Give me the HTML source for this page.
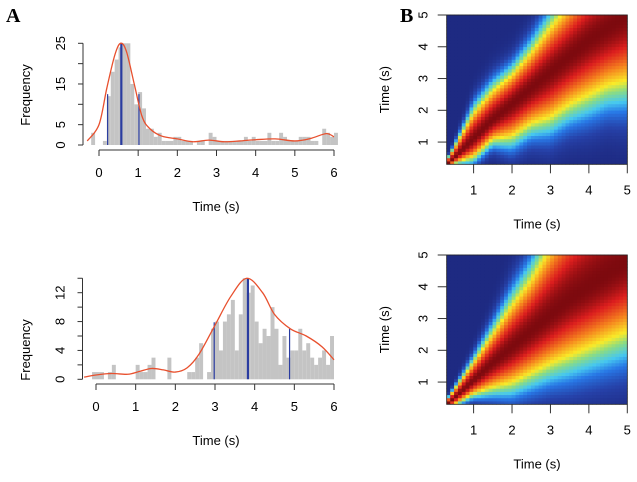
<!DOCTYPE html>
<html><head><meta charset="utf-8"><style>
html,body{margin:0;padding:0;background:#fff;}
svg{display:block;font-family:"Liberation Sans",Arial,sans-serif;}
</style></head><body>
<svg id="fig" width="637" height="482" viewBox="0 0 637 482">
<text x="6" y="22" font-family="Liberation Serif" font-weight="bold" font-size="20">A</text>
<text x="400" y="22" font-family="Liberation Serif" font-weight="bold" font-size="20">B</text>
<g id="h1"></g>
<g id="h2"></g>
<g id="m1"></g>
<g id="m2"></g>
</svg>
<script>
// ---- histogram top data ----
const top_binStart = -0.2;
const top_counts = [3,0,0,1,12,18,21,24,25,25,15,10,13,9,4,4,2,3,1,1,1,2,2,1,1,1,0,1,1,0,3,2,1,1,1,1,1,1,1,2,1,2,1,1,1,3,1,1,3,2,1,1,1,2,2,2,1,1,0,4,3,2,3];
const top_curveT = [-0.3,0,0.2,0.4,0.55,0.7,0.9,1.1,1.3,1.6,2.0,2.4,2.8,3.2,3.6,4.0,4.5,5.0,5.4,5.8,6.0];
const top_curveV = [1,5,14,22,25,23,15,7,4,2.2,1.5,0.8,1.2,0.8,1,1.3,1.5,1,1.6,2.8,2];
const top_lineT = [0.22,0.57,1.02];
const top_lineV = [12.5,25,12.5];
const top_yTicks = [0,5,10,15,20,25];
const top_yLabels = ["0","5","","15","","25"];
// ---- histogram bottom data ----
const bot_binStart = -0.1;
const bot_counts = [1,1,1,0,1,2,0,0,0,0,0,2,1,1,2,3,0,0,0,3,0,0,0,0,1,1,3,5,0,1,7,8,4,8,9,11,4,9,14,12,13,8,5,7,6,10,7,2,6,3,4,4,7,4,5,3,2,3,4,2,6];
const bot_curveT = [-0.3,0,0.4,0.8,1.1,1.4,1.7,2.0,2.3,2.6,3.0,3.4,3.8,4.2,4.5,4.9,5.3,5.7,6.0];
const bot_curveV = [0.3,0.6,0.8,0.7,1.1,1.5,1.3,1,1.6,3.5,7.5,11.5,14,12,9,7,6,4.5,2.7];
const bot_lineT = [2.98,3.83,4.88];
const bot_lineV = [7.9,14,7];
const bot_yTicks = [0,2,4,6,8,10,12,14];
const bot_yLabels = ["0","","4","","8","","12",""];
const xTicks = [0,1,2,3,4,5,6];
// ---- heatmap data (per column: ridge centre and half-widths to yellow contour) ----
const hmX = [0.3,0.5,1,1.5,2,2.5,3,3.5,4,4.5,5];
const hm1Center = [0.3,0.5,1.1,1.7,2.2,2.7,3.2,3.7,4.2,4.6,5.0];
const hm1Up = [0.12,0.3,0.8,0.9,0.9,1.1,1.4,1.6,1.8,2,2.2];
const hm1Low = [0.12,0.15,0.55,0.6,1.0,1.1,1.4,1.5,1.7,1.8,2.05];
const hm2Center = [0.3,0.5,1.05,1.6,2.1,2.6,3.1,3.6,4.0,4.4,4.8];
const hm2Up = [0.12,0.25,0.55,0.9,1.3,1.6,2.1,2.5,2.9,3.3,3.7];
const hm2Low = [0.12,0.2,0.4,0.75,1.1,1.3,1.5,1.75,1.9,2.05,2.2];
const hmTicks = [1,2,3,4,5];

const NS="http://www.w3.org/2000/svg";
function mk(parent,tag,attrs,text){const e=document.createElementNS(NS,tag);for(const k in attrs)e.setAttribute(k,attrs[k]);if(text!==undefined)e.textContent=text;parent.appendChild(e);return e;}

function hist(gid,o){
  const g=document.getElementById(gid);
  const sx=t=>o.x0+(t-0)*(o.x6-o.x0)/6;
  const sy=v=>o.y0-v*o.ppu;
  o.counts.forEach((c,i)=>{ if(c<=0) return;
    const t=o.binStart+i*0.1;
    const r=mk(g,'rect',{x:sx(t),y:sy(c),width:sx(t+0.1)-sx(t),height:o.y0-sy(c),fill:'#c4c4c4'});
    
    
  });
  o.lineT.forEach((t,i)=>{
    const l=mk(g,'line',{x1:sx(t),x2:sx(t),y1:o.y0,y2:sy(o.lineV[i]),stroke:'#2a3ca0','stroke-width':i==1?2.2:1.2});
    
    
  });
  const P=o.curveT.map((t,i)=>[sx(t),sy(o.curveV[i])]);
  let d='M'+P[0][0]+','+P[0][1];
  for(let i=0;i<P.length-1;i++){const p0=P[Math.max(0,i-1)],p1=P[i],p2=P[i+1],p3=P[Math.min(P.length-1,i+2)];
    d+=` C${p1[0]+(p2[0]-p0[0])/6},${p1[1]+(p2[1]-p0[1])/6} ${p2[0]-(p3[0]-p1[0])/6},${p2[1]-(p3[1]-p1[1])/6} ${p2[0]},${p2[1]}`;}
  const c=mk(g,'path',{d:d,fill:'none',stroke:'#e8502e','stroke-width':1.3});
  
  
  const yt=o.yTicks;
  mk(g,'line',{x1:o.ax,x2:o.ax,y1:sy(yt[0]),y2:sy(yt[yt.length-1]),stroke:'#333','stroke-width':1});
  yt.forEach((v,i)=>{mk(g,'line',{x1:o.ax-5,x2:o.ax,y1:sy(v),y2:sy(v),stroke:'#333'});
    if(o.yLabels[i]){const tx=mk(g,'text',{x:0,y:0,'font-size':13,'text-anchor':'middle',transform:`translate(${o.ax-18},${sy(v)}) rotate(-90)`},o.yLabels[i]);
      
      }});
  mk(g,'line',{x1:sx(0),x2:sx(6),y1:o.axY,y2:o.axY,stroke:'#333'});
  xTicks.forEach(t=>{mk(g,'line',{x1:sx(t),x2:sx(t),y1:o.axY,y2:o.axY+6,stroke:'#333'});
    const tx=mk(g,'text',{x:sx(t),y:o.axY+27,'font-size':13,'text-anchor':'middle'},String(t));
    
    });
  const xt=mk(g,'text',{x:216,y:o.axY+61,'font-size':13,'text-anchor':'middle'},'Time (s)');
  
  
  const yl=mk(g,'text',{x:0,y:0,'font-size':13,'text-anchor':'middle',transform:`translate(30,${o.yMid}) rotate(-90)`},'Frequency');
  
  
}
hist('h1',{x0:99,x6:334,y0:145,ppu:(145-43.3)/25,ax:83,axY:150,yMid:95,binStart:top_binStart,counts:top_counts,curveT:top_curveT,curveV:top_curveV,lineT:top_lineT,lineV:top_lineV,yTicks:top_yTicks,yLabels:top_yLabels});
hist('h2',{x0:96,x6:334,y0:379.3,ppu:(379.3-292.7)/12,ax:82.5,axY:384,yMid:350,binStart:bot_binStart,counts:bot_counts,curveT:bot_curveT,curveV:bot_curveV,lineT:bot_lineT,lineV:bot_lineV,yTicks:bot_yTicks,yLabels:bot_yLabels});

function jet(v){
  const stops=[[0,[30,42,130]],[0.11,[38,65,168]],[0.25,[40,120,230]],[0.36,[70,200,240]],[0.5,[140,220,130]],[0.62,[250,235,40]],[0.76,[245,130,30]],[0.9,[220,30,30]],[1,[125,10,15]]];
  v=Math.max(0,Math.min(1,v));
  for(let i=0;i<stops.length-1;i++){if(v<=stops[i+1][0]){const f=(v-stops[i][0])/(stops[i+1][0]-stops[i][0]);const a=stops[i][1],b=stops[i+1][1];
    return `rgb(${Math.round(a[0]+(b[0]-a[0])*f)},${Math.round(a[1]+(b[1]-a[1])*f)},${Math.round(a[2]+(b[2]-a[2])*f)})`;}}
  return 'rgb(125,10,15)';
}
function interp(xs,ys,x){if(x<=xs[0])return ys[0];for(let i=0;i<xs.length-1;i++){if(x<=xs[i+1]){const f=(x-xs[i])/(xs[i+1]-xs[i]);return ys[i]+(ys[i+1]-ys[i])*f;}}return ys[ys.length-1];}
function heat(gid,o){
  const g=document.getElementById(gid);
  const L=446.7,R=627.3,T=o.top,B=o.top+149.3;
  const sx=t=>L+(t-0.3)*(R-L)/4.7, sy=t=>B-(t-0.3)*(B-T)/4.7;
  const N=47, k=Math.log(1/0.62);
  for(let i=0;i<N;i++){const t=0.3+(i+0.5)*4.7/N;
    const c=interp(hmX,o.center,t),up=interp(hmX,o.up,t),lo=interp(hmX,o.low,t);
    for(let j=0;j<N;j++){const s=0.3+(j+0.5)*4.7/N;const d=s-c;const h=d>0?up:lo;
      const r=Math.abs(d/h);
      const v=Math.exp(-k*Math.pow(r,r<1?2:2.7));
      mk(g,'rect',{x:sx(t-2.35/N)-0.3,y:sy(s+2.35/N)-0.3,width:(R-L)/N+0.6,height:(B-T)/N+0.6,fill:jet(v)});}}
  mk(g,'rect',{x:L,y:T,width:R-L,height:B-T,fill:'none',stroke:'#222','stroke-width':0.8});
  hmTicks.forEach(t=>{
    mk(g,'line',{x1:sx(t),x2:sx(t),y1:B,y2:B+9,stroke:'#333'});
    const a=mk(g,'text',{x:sx(t),y:B+30,'font-size':13,'text-anchor':'middle'},String(t));
    
    
    mk(g,'line',{x1:L-9,x2:L,y1:sy(t),y2:sy(t),stroke:'#333'});
    const b=mk(g,'text',{x:0,y:0,'font-size':13,'text-anchor':'middle',transform:`translate(${L-19},${sy(t)}) rotate(-90)`},String(t));
    
    
  });
  const xt=mk(g,'text',{x:537,y:B+64,'font-size':13,'text-anchor':'middle'},'Time (s)');
  
  
  const yt=mk(g,'text',{x:0,y:0,'font-size':13,'text-anchor':'middle',transform:`translate(389,${(T+B)/2}) rotate(-90)`},'Time (s)');
  
  
}
heat('m1',{top:15,center:hm1Center,up:hm1Up,low:hm1Low});
heat('m2',{top:255,center:hm2Center,up:hm2Up,low:hm2Low});
</script>
</body></html>
